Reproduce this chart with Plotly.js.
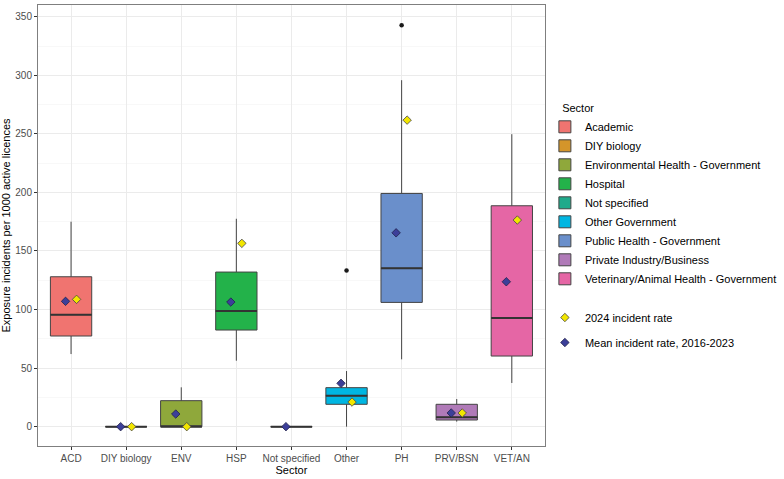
<!DOCTYPE html>
<html>
<head>
<meta charset="utf-8">
<script src="https://cdn.plot.ly/plotly-3.0.1.min.js"></script>
<style>html,body{margin:0;padding:0;background:#fff;}#chart{width:784px;height:479px;}</style>
</head>
<body>
<div id="chart"></div>
<script>
// Data
var codes = ["ACD","DIY biology","ENV","HSP","Not specified","Other","PH","PRV/BSN","VET/AN"];
var sectorNames = ["Academic","DIY biology","Environmental Health - Government","Hospital","Not specified","Other Government","Public Health - Government","Private Industry/Business","Veterinary/Animal Health - Government"];
var lowerWhisker = [62, 0, 0, 56.3, 0, 0, 57.5, 4.3, 37.3];
var q1Values     = [77.4, 0, 0, 82.5, 0, 19.1, 106.1, 5.7, 60.3];
var medianValues = [95.6, 0, 0, 98.7, 0, 26.5, 135.2, 8, 92.7];
var q3Values     = [128, 0, 22.2, 132, 0, 33.3, 199.1, 19.1, 188.6];
var upperWhisker = [175, 0, 33.6, 177.5, 0, 47.5, 295.8, 23.6, 249.7];
var outlierSector = [5, 6];
var outlierValues = [133.4, 342.7];
var meanRate  = [107, 0, 10.8, 106.4, 0, 37, 165.5, 11.7, 123.7];
var rate2024  = [108.7, 0, 0, 156.5, null, 21, 261.7, 11.7, 176.4];
var fillColors = ["#F07470","#D4952A","#8FA83B","#23B24A","#1FAA8B","#00B6E2","#6A8FCB","#B07AB8","#E566A5"];

var boxW = 0.75, dodge = 0.1;
var traces = [];
codes.forEach(function(c, i){
  traces.push({
    type: "box", name: sectorNames[i], x: [i],
    q1: [q1Values[i]], median: [medianValues[i]], q3: [q3Values[i]],
    lowerfence: [lowerWhisker[i]], upperfence: [upperWhisker[i]],
    width: boxW, fillcolor: fillColors[i],
    line: {color: "#444444", width: 1}, whiskerwidth: 0,
    boxpoints: false, hoverinfo: "skip", legend: "legend", legendgroup: "s"
  });
});
// thicker median lines
var mx = [], my = [];
codes.forEach(function(c, i){ mx.push(i - boxW/2, i + boxW/2, null); my.push(medianValues[i], medianValues[i], null); });
traces.push({type:"scatter", mode:"lines", x: mx, y: my, line:{color:"#333333", width:2}, showlegend:false, hoverinfo:"skip"});
// outliers
traces.push({type:"scatter", mode:"markers", x: outlierSector, y: outlierValues, marker:{color:"#1a1a1a", size:4.5}, showlegend:false, hoverinfo:"skip"});
// 2024 rate
traces.push({type:"scatter", mode:"markers", name:"2024 incident rate",
  x: codes.map(function(c,i){return i + dodge;}), y: rate2024,
  marker:{symbol:"diamond", color:"#F2E600", size:6.5, line:{color:"#444444", width:0.8}},
  legend:"legend2", legendgroup:"a"});
// mean rate
traces.push({type:"scatter", mode:"markers", name:"Mean incident rate, 2016-2023",
  x: codes.map(function(c,i){return i - dodge;}), y: meanRate,
  marker:{symbol:"diamond", color:"#3C3F99", size:6.5, line:{color:"#22224a", width:0.8}},
  legend:"legend2", legendgroup:"b"});

var layout = {
  width: 784, height: 479,
  margin: {l: 38, r: 232, t: 5, b: 33},
  paper_bgcolor: "#ffffff", plot_bgcolor: "#ffffff",
  font: {family: "Liberation Sans, Arial, sans-serif", color: "#000"},
  boxmode: "overlay",
  xaxis: {
    range: [-0.6, 8.6], tickvals: codes.map(function(c,i){return i;}), ticktext: codes,
    showgrid: true, gridcolor: "#EBEBEB", gridwidth: 1, zeroline: false,
    ticks: "outside", ticklen: 3, tickcolor: "#333333", tickwidth: 1,
    tickfont: {size: 10, color: "#4D4D4D"},
    showline: true, mirror: true, linecolor: "#7f7f7f", linewidth: 1,
    title: {text: "Sector", font: {size: 11, color: "#000"}, standoff: 1}
  },
  yaxis: {
    range: [-16.5, 360], tickvals: [0,50,100,150,200,250,300,350],
    showgrid: true, gridcolor: "#EBEBEB", gridwidth: 1, zeroline: false,
    minor: {dtick: 25, tick0: 25, showgrid: true, gridcolor: "#F4F4F4", gridwidth: 0.6, ticks: ""},
    ticks: "outside", ticklen: 3, tickcolor: "#333333", tickwidth: 1,
    tickfont: {size: 10, color: "#4D4D4D"},
    showline: true, mirror: true, linecolor: "#7f7f7f", linewidth: 1,
    title: {text: "Exposure incidents per 1000 active licences", font: {size: 11, color: "#000"}, standoff: 6}
  },
  legend: {
    xref: "container", yref: "container",
    x: 0.695, xanchor: "left", y: 0.7954, yanchor: "top",
    title: {text: "\u00a0\u00a0\u00a0\u00a0\u00a0Sector", font: {size: 11, color: "#000"}},
    font: {size: 11, color: "#000"}, bgcolor: "rgba(0,0,0,0)",
    tracegroupgap: 0, itemwidth: 30
  },
  legend2: {
    xref: "container", yref: "container",
    x: 0.695, xanchor: "left", y: 0.3674, yanchor: "top",
    font: {size: 11, color: "#000"}, bgcolor: "rgba(0,0,0,0)",
    traceorder: "grouped", tracegroupgap: 6, itemwidth: 30
  },
  showlegend: true
};
Plotly.newPlot("chart", traces, layout, {displayModeBar: false, staticPlot: true});
</script>
</body>
</html>
